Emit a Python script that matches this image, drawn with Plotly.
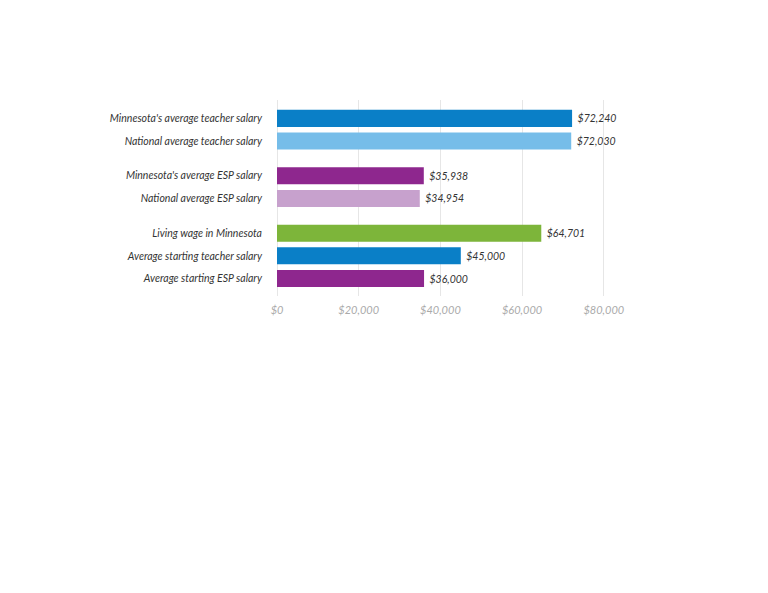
import plotly.graph_objects as go

# salary data
labels = [
    "Minnesota's average teacher salary",
    "National average teacher salary",
    "Minnesota's average ESP salary",
    "National average ESP salary",
    "Living wage in Minnesota",
    "Average starting teacher salary",
    "Average starting ESP salary",
]
salaries = [72240, 72030, 35938, 34954, 64701, 45000, 36000]
groups = [0, 0, 1, 1, 2, 2, 2]

x_ticks = [0, 20000, 40000, 60000, 80000]
x_tick_text = ["$0", "$20,000", "$40,000", "$60,000", "$80,000"]

# styling
bar_colors = ["#0A7FC7", "#76BDE9", "#8E278E", "#C7A1CD", "#7DB53A", "#0A7FC7", "#8E278E"]
FONT = "Lato, 'DejaVu Sans Condensed', sans-serif"
GROUP_GAP = 0.53

# row positions: one unit per bar, extra space between groups
ypos = [i + g * GROUP_GAP for i, g in enumerate(groups)]

fig = go.Figure()
fig.add_trace(go.Bar(
    x=salaries,
    y=ypos,
    orientation='h',
    width=0.75,
    marker=dict(color=bar_colors, line=dict(width=0)),
    text=[f" ${v:,}" for v in salaries],
    textposition='outside',
    textfont=dict(family=FONT, size=10.5, color='#333333', style='italic'),
    cliponaxis=False,
    hoverinfo='skip',
))

fig.update_xaxes(
    range=[0, 80300],
    tickvals=x_ticks,
    ticktext=x_tick_text,
    tickfont=dict(family=FONT, size=11, color='#AAAAAA', style='italic'),
    showgrid=True,
    gridcolor='#E6E6E6',
    gridwidth=1,
    zeroline=True,
    zerolinecolor='#E6E6E6',
    zerolinewidth=1,
    showline=False,
    ticklabelstandoff=6,
)
fig.update_yaxes(
    range=[max(ypos) + 0.77, -0.81],
    tickvals=ypos,
    ticktext=labels,
    tickfont=dict(family=FONT, size=10.5, color='#333333', style='italic'),
    showgrid=False,
    zeroline=False,
    showline=False,
    ticklabelstandoff=14,
)
fig.update_layout(
    width=768,
    height=593,
    plot_bgcolor='white',
    paper_bgcolor='white',
    showlegend=False,
    margin=dict(l=269, r=171, t=92, b=305),
)

fig.write_html("out.html")
